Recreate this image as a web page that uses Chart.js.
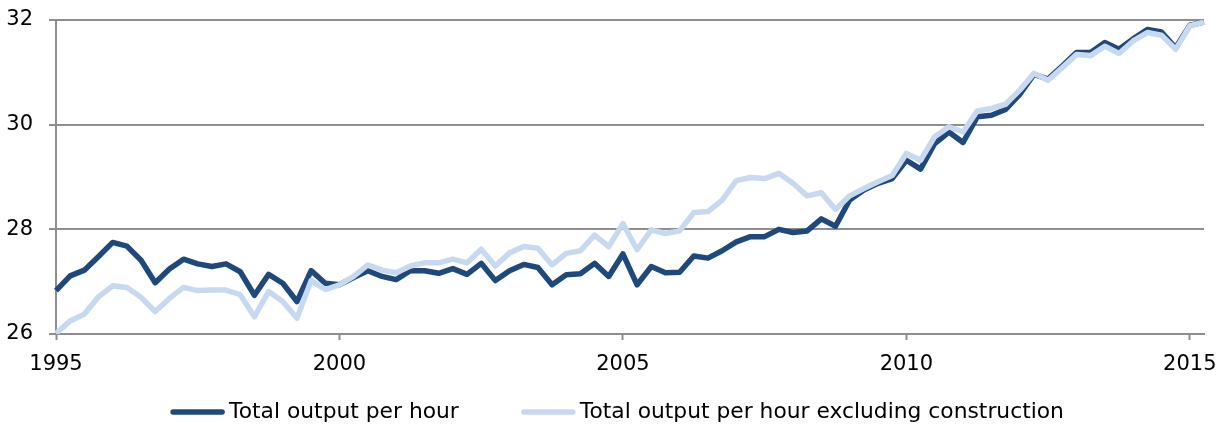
<!DOCTYPE html>
<html>
<head>
<meta charset="utf-8">
<script src="https://cdn.jsdelivr.net/npm/chart.js@4"></script>
<style>
    body { margin: 0; background: #fff; }
    #wrap { width: 1228px; height: 424px; }
</style>
</head>
<body>
<div id="wrap"><canvas id="prodChart"></canvas></div>
<script>
const quarters = [
    '1995Q1', '1995Q2', '1995Q3', '1995Q4', '1996Q1', '1996Q2', '1996Q3', '1996Q4',
    '1997Q1', '1997Q2', '1997Q3', '1997Q4', '1998Q1', '1998Q2', '1998Q3', '1998Q4',
    '1999Q1', '1999Q2', '1999Q3', '1999Q4', '2000Q1', '2000Q2', '2000Q3', '2000Q4',
    '2001Q1', '2001Q2', '2001Q3', '2001Q4', '2002Q1', '2002Q2', '2002Q3', '2002Q4',
    '2003Q1', '2003Q2', '2003Q3', '2003Q4', '2004Q1', '2004Q2', '2004Q3', '2004Q4',
    '2005Q1', '2005Q2', '2005Q3', '2005Q4', '2006Q1', '2006Q2', '2006Q3', '2006Q4',
    '2007Q1', '2007Q2', '2007Q3', '2007Q4', '2008Q1', '2008Q2', '2008Q3', '2008Q4',
    '2009Q1', '2009Q2', '2009Q3', '2009Q4', '2010Q1', '2010Q2', '2010Q3', '2010Q4',
    '2011Q1', '2011Q2', '2011Q3', '2011Q4', '2012Q1', '2012Q2', '2012Q3', '2012Q4',
    '2013Q1', '2013Q2', '2013Q3', '2013Q4', '2014Q1', '2014Q2', '2014Q3', '2014Q4',
    '2015Q1', '2015Q2'
];

// labelled years on the x axis
const yearTicks = ['1995', '2000', '2005', '2010', '2015'];

const totalOutput = [
    26.83, 27.11, 27.22, 27.48, 27.75, 27.68, 27.41, 26.98,
    27.24, 27.43, 27.34, 27.29, 27.34, 27.19, 26.74, 27.14,
    26.97, 26.62, 27.21, 26.97, 26.94, 27.08, 27.21, 27.10,
    27.04, 27.21, 27.21, 27.16, 27.25, 27.14, 27.35, 27.02,
    27.21, 27.33, 27.27, 26.94, 27.13, 27.15, 27.35, 27.10,
    27.53, 26.94, 27.29, 27.17, 27.18, 27.49, 27.45, 27.59,
    27.76, 27.86, 27.86, 28.00, 27.94, 27.97, 28.20, 28.06,
    28.56, 28.75, 28.88, 28.97, 29.32, 29.15, 29.64, 29.86,
    29.66, 30.15, 30.18, 30.29, 30.58, 30.96, 30.87, 31.12,
    31.38, 31.38, 31.57, 31.44, 31.64, 31.82, 31.77, 31.47,
    31.90, 31.96
];

const exConstruction = [
    26.01, 26.25, 26.38, 26.71, 26.92, 26.89, 26.70, 26.43,
    26.68, 26.89, 26.83, 26.84, 26.84, 26.75, 26.33, 26.81,
    26.62, 26.30, 27.02, 26.85, 26.94, 27.10, 27.32, 27.22,
    27.17, 27.30, 27.36, 27.36, 27.43, 27.36, 27.62, 27.30,
    27.55, 27.67, 27.64, 27.32, 27.54, 27.59, 27.89, 27.67,
    28.11, 27.61, 27.99, 27.92, 27.97, 28.32, 28.34, 28.56,
    28.93, 28.99, 28.97, 29.07, 28.88, 28.64, 28.70, 28.38,
    28.64, 28.78, 28.91, 29.03, 29.45, 29.32, 29.77, 29.96,
    29.86, 30.26, 30.31, 30.39, 30.66, 30.98, 30.85, 31.09,
    31.34, 31.32, 31.50, 31.36, 31.60, 31.76, 31.71, 31.44,
    31.89, 31.96
];

const gridGray = '#8e8e8e';
const fontFamily = "'DejaVu Sans', Verdana, sans-serif";

// legend drawn under the axis, line sample + label like the original
const bottomLegend = {
    id: 'bottomLegend',
    afterDraw(chart) {
        const ctx = chart.ctx;
        const sample = 55, gap = 4, between = 62, y = 412;
        ctx.save();
        ctx.font = '21.8px ' + fontFamily;
        const items = chart.data.datasets.map(ds => ({
            ds: ds,
            w: sample + gap + ctx.measureText(ds.label).width
        }));
        const total = items.reduce((s, it) => s + it.w, 0) + between * (items.length - 1);
        let x = (chart.width - total) / 2 + 3;
        items.forEach(it => {
            ctx.strokeStyle = it.ds.borderColor;
            ctx.lineWidth = it.ds.borderWidth;
            ctx.lineCap = 'round';
            ctx.beginPath();
            ctx.moveTo(x + 3, y);
            ctx.lineTo(x + sample - 3, y);
            ctx.stroke();
            ctx.fillStyle = '#000';
            ctx.textBaseline = 'middle';
            ctx.fillText(it.ds.label, x + sample + gap, y);
            x += it.w + between;
        });
        ctx.restore();
    }
};

Chart.defaults.font.family = fontFamily;
Chart.defaults.font.size = 21;
Chart.defaults.color = '#000';

const prodChart = new Chart(document.getElementById('prodChart'), {
    type: 'line',
    data: {
        labels: quarters,
        datasets: [{
            label: 'Total output per hour',
            data: totalOutput,
            borderColor: '#1F497D',
            borderWidth: 5.5,
            pointRadius: 0,
            tension: 0,
            borderJoinStyle: 'round',
            order: 2
        },
        {
            label: 'Total output per hour excluding construction',
            data: exConstruction,
            borderColor: '#C6D9F1',
            borderWidth: 5.5,
            pointRadius: 0,
            tension: 0,
            borderJoinStyle: 'round',
            order: 1
        }]
    },
    options: {
        responsive: true,
        maintainAspectRatio: false,
        animation: false,
        layout: {
            padding: { top: 20, right: 24, left: 0, bottom: 0 }
        },
        plugins: {
            legend: { display: false },
            tooltip: { enabled: false }
        },
        scales: {
            x: {
                type: 'category',
                offset: false,
                afterFit(scale) { scale.height = 90; },
                border: { color: gridGray, width: 2 },
                grid: {
                    drawOnChartArea: false,
                    tickLength: 6,
                    tickWidth: 2,
                    tickColor: c => (c.tick && c.tick.label) ? gridGray : 'transparent'
                },
                ticks: {
                    autoSkip: false,
                    maxRotation: 0,
                    padding: 12,
                    callback: function (value) {
                        const q = quarters[value];
                        const yr = q.slice(0, 4);
                        return (q.endsWith('Q1') && yearTicks.includes(yr)) ? yr : '';
                    }
                }
            },
            y: {
                min: 26,
                max: 32,
                afterFit(scale) {
                    scale.width = 56;
                    scale.paddingTop = 0;
                    scale.paddingBottom = 0;
                },
                border: { color: gridGray, width: 2 },
                grid: {
                    color: gridGray,
                    lineWidth: 2,
                    tickLength: 7
                },
                ticks: {
                    stepSize: 2,
                    padding: 16
                }
            }
        }
    },
    plugins: [bottomLegend]
});
</script>
</body>
</html>
